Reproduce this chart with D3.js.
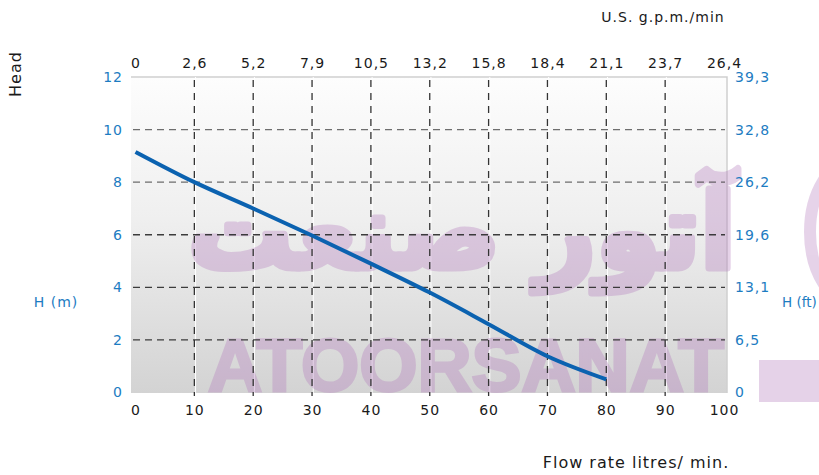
<!DOCTYPE html>
<html>
<head>
<meta charset="utf-8">
<script src="https://cdn.jsdelivr.net/npm/d3@7"></script>
<style>
    body { margin: 0; background: #fff; }
    svg { display: block; }
</style>
</head>
<body>
<svg id="chart" width="819" height="475"></svg>
<script>
// flow rate (l/min) and head (m)
const flowValues = [0, 10, 20, 30, 40, 50, 60, 70, 80];
const headValues = [9.15, 8.0, 7.0, 5.97, 4.9, 3.8, 2.6, 1.38, 0.5];

const flowTicks = [0, 10, 20, 30, 40, 50, 60, 70, 80, 90, 100];
const gpmLabels = ["0", "2,6", "5,2", "7,9", "10,5", "13,2", "15,8", "18,4", "21,1", "23,7", "26,4"];
const headTicks = [0, 2, 4, 6, 8, 10, 12];
const feetLabels = ["0", "6,5", "13,1", "19,6", "26,2", "32,8", "39,3"];

const FONT = "'DejaVu Sans', sans-serif";
const BLUE = "#1d7cc2";
const LINE_BLUE = "#0b62b0";
const WM = "rgb(178, 120, 188)";

const svg = d3.select("#chart");

const plot = { left: 131, right: 727, top: 77, bottom: 393 };
const x = d3.scaleLinear().domain([0, 100]).range([135.5, 724]);
const y = d3.scaleLinear().domain([0, 12]).range([392.5, 77]);

const defs = svg.append("defs");
const grad = defs.append("linearGradient")
    .attr("id", "bg")
    .attr("x1", 0).attr("y1", 0).attr("x2", 0).attr("y2", 1);
grad.append("stop").attr("offset", "0%").attr("stop-color", "#fdfdfd");
grad.append("stop").attr("offset", "45%").attr("stop-color", "#efefef");
grad.append("stop").attr("offset", "100%").attr("stop-color", "#d3d3d3");

// plot background
svg.append("rect")
    .attr("x", plot.left)
    .attr("y", plot.top)
    .attr("width", plot.right - plot.left)
    .attr("height", plot.bottom - plot.top)
    .attr("fill", "url(#bg)");

svg.append("path")
    .attr("d", `M${plot.left},${plot.top}H${plot.right}V${plot.bottom}`)
    .attr("fill", "none")
    .attr("stroke", "#cfcfcf")
    .attr("stroke-width", 1.5);

// white hairlines next to the vertical grid
svg.append("g")
    .selectAll("line")
    .data(flowTicks.slice(1, -1))
    .join("line")
    .attr("x1", (d) => x(d) + 1.2)
    .attr("x2", (d) => x(d) + 1.2)
    .attr("y1", plot.top)
    .attr("y2", plot.bottom)
    .attr("stroke", "#ffffff")
    .attr("stroke-width", 1);

// watermark
const wm = svg.append("g").attr("opacity", 0.33);
wm.append("text")
    .attr("x", 462)
    .attr("y", 268)
    .attr("text-anchor", "middle")
    .attr("font-family", "'DejaVu Sans', sans-serif")
    .attr("font-weight", 700)
    .attr("font-size", 104)
    .attr("direction", "rtl")
    .attr("fill", WM)
    .attr("stroke", WM)
    .attr("stroke-width", 7)
    .attr("stroke-linejoin", "round")
    .text("آتور صنعت");
wm.append("text")
    .attr("x", 466)
    .attr("y", 391)
    .attr("text-anchor", "middle")
    .attr("font-family", "'Liberation Sans', sans-serif")
    .attr("font-weight", 700)
    .attr("font-size", 74)
    .attr("textLength", 516)
    .attr("lengthAdjust", "spacingAndGlyphs")
    .attr("fill", WM)
    .attr("stroke", WM)
    .attr("stroke-width", 3)
    .text("ATOORSANAT");
wm.append("rect")
    .attr("x", 759).attr("y", 360)
    .attr("width", 60).attr("height", 42)
    .attr("fill", WM);
wm.append("ellipse")
    .attr("cx", 855).attr("cy", 232)
    .attr("rx", 45).attr("ry", 72)
    .attr("fill", "none")
    .attr("stroke", WM)
    .attr("stroke-width", 12);

// grid
const grid = svg.append("g")
    .attr("stroke", "#333")
    .attr("stroke-width", 1.3);
grid.selectAll("line.v")
    .data(flowTicks.slice(1, -1))
    .join("line")
    .attr("class", "v")
    .attr("x1", (d) => x(d))
    .attr("x2", (d) => x(d))
    .attr("y1", plot.top + 3)
    .attr("y2", plot.bottom + 3)
    .attr("stroke-dasharray", "7,6");
grid.selectAll("line.h")
    .data(headTicks.slice(1, -1))
    .join("line")
    .attr("class", "h")
    .attr("x1", plot.left + 2)
    .attr("x2", plot.right - 2)
    .attr("y1", (d) => y(d))
    .attr("y2", (d) => y(d))
    .attr("stroke-dasharray", "7,5")
    .attr("stroke-opacity", (d) => d >= 8 ? 0.7 : 0.95);

// head curve
const line = d3.line()
    .x((d) => x(d[0]))
    .y((d) => y(d[1]))
    .curve(d3.curveMonotoneX);

svg.append("path")
    .datum(flowValues.map((f, i) => [f, headValues[i]]))
    .attr("d", line)
    .attr("fill", "none")
    .attr("stroke", LINE_BLUE)
    .attr("stroke-width", 4)
    .attr("stroke-linecap", "butt");

// axes
const textStyle = (sel, color, size, spacing = 1) => sel
    .attr("font-family", FONT)
    .attr("font-size", size)
    .attr("fill", color)
    .attr("letter-spacing", spacing);

const bottomAxis = svg.append("g")
    .attr("transform", `translate(0,${plot.bottom})`)
    .call(d3.axisBottom(x).tickValues(flowTicks).tickSize(0).tickPadding(12));
const topAxis = svg.append("g")
    .attr("transform", `translate(0,${plot.top})`)
    .call(d3.axisTop(x).tickValues(flowTicks).tickSize(0).tickPadding(9)
        .tickFormat((d, i) => gpmLabels[i]));
const leftAxis = svg.append("g")
    .attr("transform", `translate(${plot.left},0)`)
    .call(d3.axisLeft(y).tickValues(headTicks).tickSize(0).tickPadding(8));
const rightAxis = svg.append("g")
    .attr("transform", `translate(${plot.right},0)`)
    .call(d3.axisRight(y).tickValues(headTicks).tickSize(0).tickPadding(8)
        .tickFormat((d, i) => feetLabels[i]));

[bottomAxis, topAxis, leftAxis, rightAxis].forEach((g) => g.select(".domain").remove());
textStyle(bottomAxis.selectAll("text"), "#1a1a1a", 14);
textStyle(topAxis.selectAll("text"), "#1a1a1a", 14);
textStyle(leftAxis.selectAll("text"), BLUE, 14);
textStyle(rightAxis.selectAll("text"), BLUE, 14);

// titles
svg.append("text")
    .attr("transform", "translate(21,74) rotate(-90)")
    .attr("text-anchor", "middle")
    .call(textStyle, "#1a1a1a", 16)
    .text("Head");
svg.append("text")
    .attr("x", 663).attr("y", 22)
    .attr("text-anchor", "middle")
    .call(textStyle, "#1a1a1a", 14)
    .text("U.S. g.p.m./min");
svg.append("text")
    .attr("x", 56).attr("y", 307)
    .attr("text-anchor", "middle")
    .call(textStyle, BLUE, 14)
    .text("H (m)");
svg.append("text")
    .attr("x", 782).attr("y", 307)
    .call(textStyle, BLUE, 13.5, 0)
    .text("H (ft)");
svg.append("text")
    .attr("x", 636).attr("y", 468)
    .attr("text-anchor", "middle")
    .call(textStyle, "#1a1a1a", 16)
    .text("Flow rate litres/ min.");
</script>
</body>
</html>
